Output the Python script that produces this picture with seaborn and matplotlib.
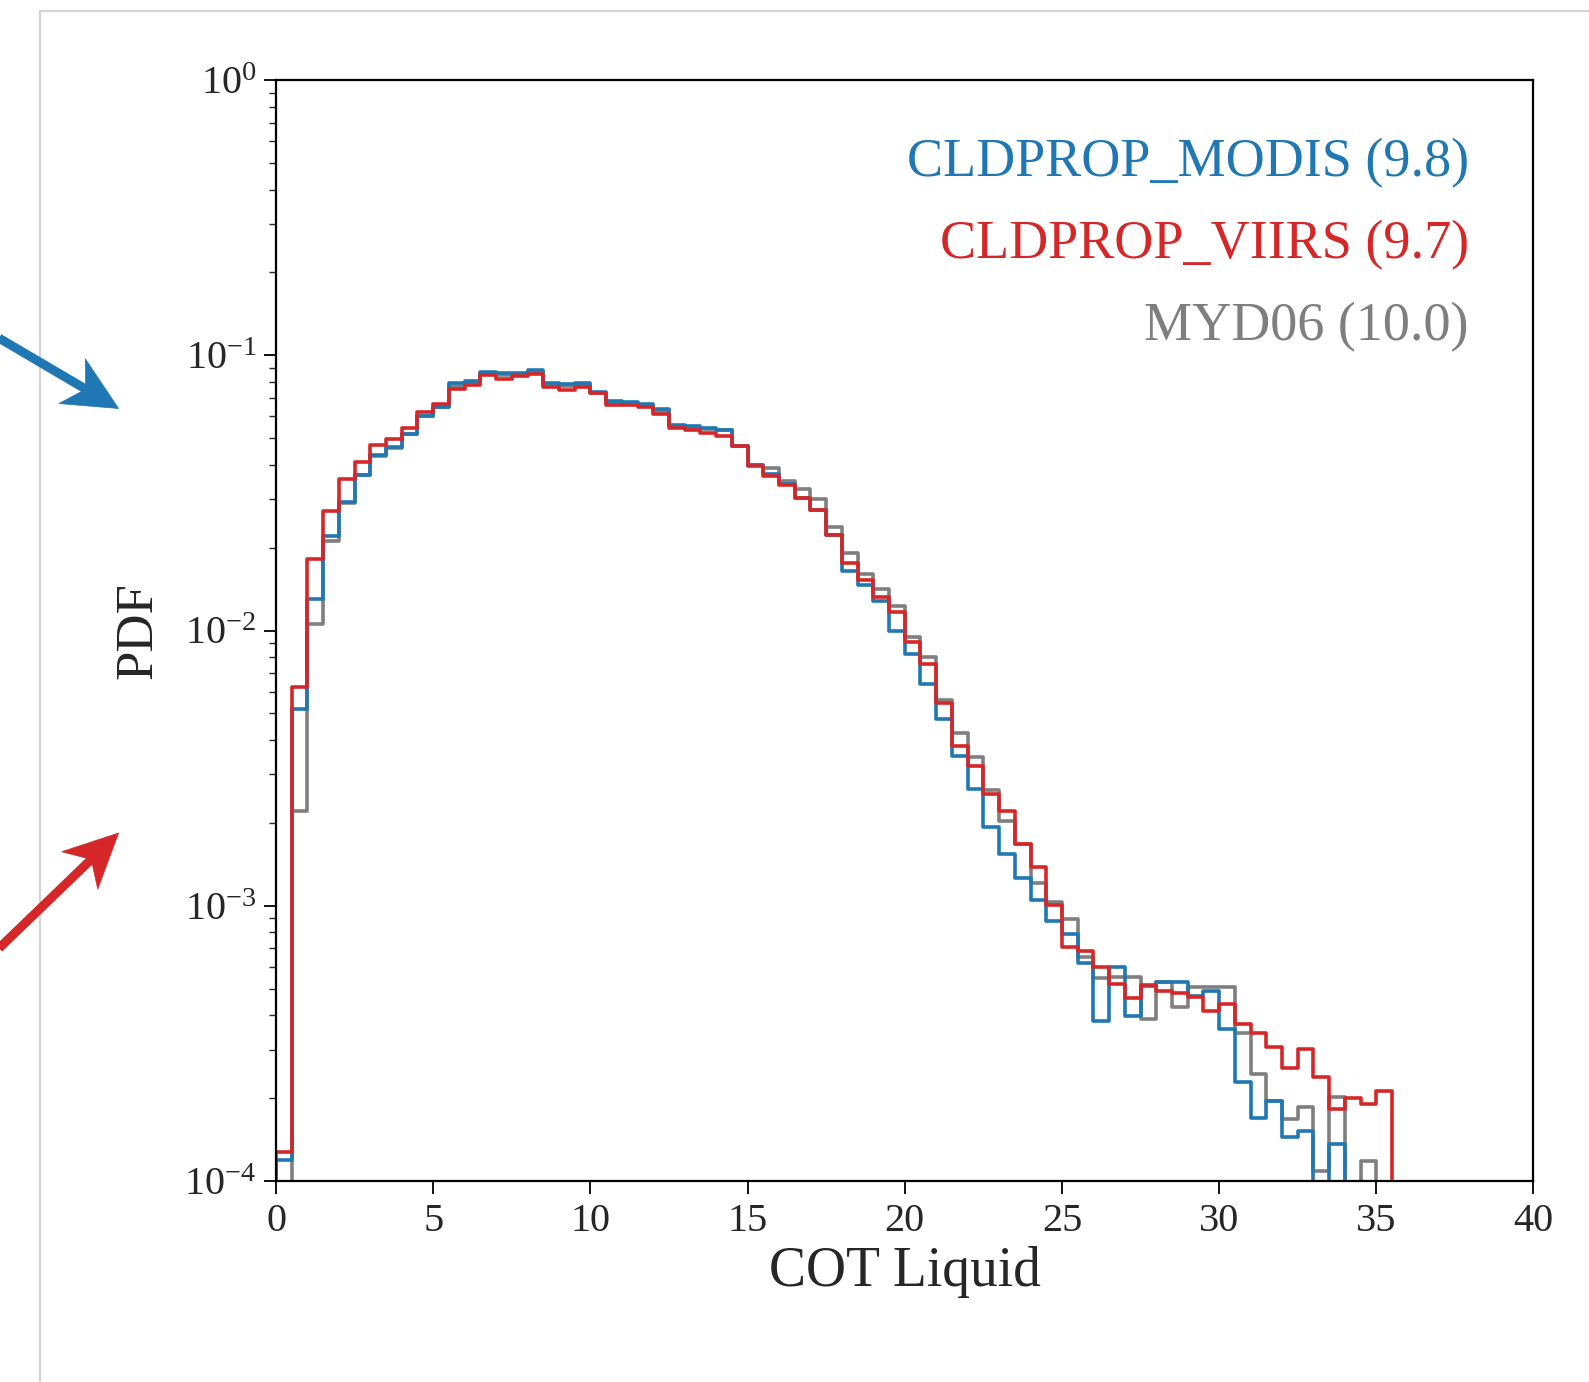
import numpy as np
import pandas as pd
import matplotlib
matplotlib.use("Agg")
import matplotlib.pyplot as plt
from matplotlib.patches import Rectangle, Polygon
from matplotlib.lines import Line2D
import seaborn as sns

# Bin layout: 0.5-wide COT bins; the range starts with the empty bin [-0.5, 0)
bin_width = 0.5
bin_range = (-0.5, 40.0)

# PDF per bin, starting at COT = 0 (bins with no samples are 0)
modis_pdf = [
    1.19e-4, 5.19e-3, 0.0130, 0.0220, 0.0293, 0.0368, 0.0435, 0.0464, 0.0519, 0.0600,
    0.0650, 0.0792, 0.0807, 0.0869, 0.0865, 0.0860, 0.0882, 0.0796, 0.0785, 0.0790,
    0.0735, 0.0680, 0.0677, 0.0667, 0.0636, 0.0560, 0.0552, 0.0545, 0.0534, 0.0467,
    0.0398, 0.0370, 0.0340, 0.0304, 0.0275, 0.0222, 0.0165, 0.0146, 0.0128, 0.00995,
    0.00823, 0.00640, 0.00478, 0.00351, 0.00266, 0.00194, 0.00154, 0.00126, 0.00105, 0.000877,
    0.000788, 0.000622, 0.000380, 0.000597, 0.000398, 0.000510, 0.000529, 0.000529, 0.000471, 0.000491,
    0.000356, 0.000228, 0.000170, 0.000196, 0.000144, 0.000152, 0.0, 0.000136, 0.0, 0.0,
    0.0,
]
viirs_pdf = [
    1.27e-4, 6.22e-3, 0.0182, 0.0272, 0.0356, 0.0409, 0.0471, 0.0495, 0.0546, 0.0622,
    0.0667, 0.0757, 0.0778, 0.0851, 0.0822, 0.0839, 0.0858, 0.0767, 0.0746, 0.0767,
    0.0730, 0.0662, 0.0658, 0.0649, 0.0614, 0.0546, 0.0534, 0.0522, 0.0509, 0.0467,
    0.0395, 0.0364, 0.0337, 0.0304, 0.0275, 0.0222, 0.0176, 0.0152, 0.0132, 0.0117,
    0.00907, 0.00756, 0.00544, 0.00382, 0.00323, 0.00254, 0.00220, 0.00168, 0.00138, 0.00101,
    0.000706, 0.000686, 0.000600, 0.000519, 0.000462, 0.000516, 0.000491, 0.000480, 0.000466, 0.000415,
    0.000438, 0.000373, 0.000344, 0.000306, 0.000258, 0.000301, 0.000239, 0.000182, 0.000201, 0.000190,
    0.000212,
]
myd06_pdf = [
    0.00009, 0.00220, 0.0106, 0.0212, 0.0290, 0.0368, 0.0432, 0.0462, 0.0519, 0.0600,
    0.0649, 0.0775, 0.0795, 0.0860, 0.0850, 0.0852, 0.0872, 0.0785, 0.0770, 0.0780,
    0.0732, 0.0672, 0.0668, 0.0660, 0.0628, 0.0555, 0.0545, 0.0538, 0.0534, 0.0467,
    0.0400, 0.0389, 0.0348, 0.0328, 0.0300, 0.0238, 0.0191, 0.0161, 0.0141, 0.0123,
    0.00946, 0.00804, 0.00560, 0.00423, 0.00346, 0.00264, 0.00203, 0.00168, 0.00121, 0.00103,
    0.000895, 0.00065, 0.000546, 0.000550, 0.000552, 0.000387, 0.000529, 0.000427, 0.000507, 0.000507,
    0.000507, 0.000344, 0.000244, 0.000195, 0.000168, 0.000185, 0.000109, 0.000202, 0.0, 0.000118,
    0.0,
]

series_names = ["MYD06", "CLDPROP_MODIS", "CLDPROP_VIIRS"]
series_values = [myd06_pdf, modis_pdf, viirs_pdf]
series_colors = ["#7f7f7f", "#1f77b4", "#d62728"]

legend_labels = ["CLDPROP_MODIS (9.8)", "CLDPROP_VIIRS (9.7)", "MYD06 (10.0)"]
legend_colors = ["#1f77b4", "#d62728", "#7f7f7f"]

x_ticks = [0, 5, 10, 15, 20, 25, 30, 35, 40]

sns.set_style("ticks")
plt.rcParams["font.family"] = ["Liberation Serif", "DejaVu Serif"]
plt.rcParams["mathtext.fontset"] = "custom"
plt.rcParams["mathtext.rm"] = "Liberation Serif"
plt.rcParams["mathtext.it"] = "Liberation Serif:italic"
plt.rcParams["mathtext.bf"] = "Liberation Serif:bold"

W, H = 1589, 1382
fig = plt.figure(figsize=(W / 100, H / 100), dpi=100)
ax = fig.add_axes([276 / W, 1 - 1181 / H, (1533.5 - 276) / W, (1181 - 80) / H])

centers = np.arange(len(modis_pdf)) * bin_width + bin_width / 2
for name, vals, col in zip(series_names, series_values, series_colors):
    df = pd.DataFrame({"cot": centers, "pdf": vals})
    sns.histplot(data=df, x="cot", weights="pdf", binwidth=bin_width, binrange=bin_range,
                 element="step", fill=False, stat="count", color=col,
                 linewidth=2.6, ax=ax)

ax.set_yscale("log")
ax.set_xlim(0, 40)
ax.set_ylim(1e-4, 1e0)
ax.set_xticks(x_ticks)
ax.set_xticklabels([str(t) for t in x_ticks])
ax.set_xlabel("COT Liquid", fontsize=40, labelpad=4)
ax.set_ylabel("PDF", fontsize=38)
ax.yaxis.set_label_coords(-0.0905, 0.5)
ax.tick_params(axis="both", which="major", labelsize=29, direction="out",
               length=9, width=1.3, color="black")
ax.tick_params(axis="x", which="major", pad=7)
ax.tick_params(axis="y", which="major", pad=5)
ax.tick_params(axis="y", which="minor", direction="out", length=5, width=1.0)
ax.tick_params(axis="x", which="minor", bottom=False)
for sp in ax.spines.values():
    sp.set_visible(True)
    sp.set_linewidth(1.6)
    sp.set_color("black")

for i, (lab, col) in enumerate(zip(legend_labels, legend_colors)):
    ax.text(0.9487, 0.925 - i * 0.0747, lab, color=col, fontsize=39,
            ha="right", va="center", transform=ax.transAxes)

# Frame around the panel
fig.patches.append(Rectangle((40 / W, -0.05), 1.2, (1 - 11 / H) + 0.05,
                             transform=fig.transFigure, fill=False,
                             edgecolor="#d4d4d4", linewidth=1.6))


def pointer(start, tip, color):
    """Draw a notched arrow in figure pixels (origin top-left)."""
    sx, sy = start
    tx, ty = tip
    d = np.array([tx - sx, ty - sy], dtype=float)
    d /= np.hypot(*d)
    p = np.array([-d[1], d[0]])
    head_len, half_w, notch = 54.0, 26.0, 16.0
    tipv = np.array([tx, ty])
    back = tipv - head_len * d
    notch_pt = tipv - (head_len - notch) * d
    pts = [tipv, back + half_w * p, notch_pt, back - half_w * p]
    to_fig = lambda q: (q[0] / W, 1 - q[1] / H)
    fig.lines.append(Line2D([sx / W, notch_pt[0] / W], [1 - sy / H, 1 - notch_pt[1] / H],
                            transform=fig.transFigure, color=color, linewidth=6.5,
                            solid_capstyle="butt"))
    fig.patches.append(Polygon([to_fig(q) for q in pts], closed=True,
                               transform=fig.transFigure, facecolor=color,
                               edgecolor=color, linewidth=0.5))


pointer((-8, 334), (118.6, 408.5), "#1f77b4")
pointer((-8, 955), (118.6, 833), "#d62728")

fig.savefig("out.png", dpi=100, facecolor="white")
